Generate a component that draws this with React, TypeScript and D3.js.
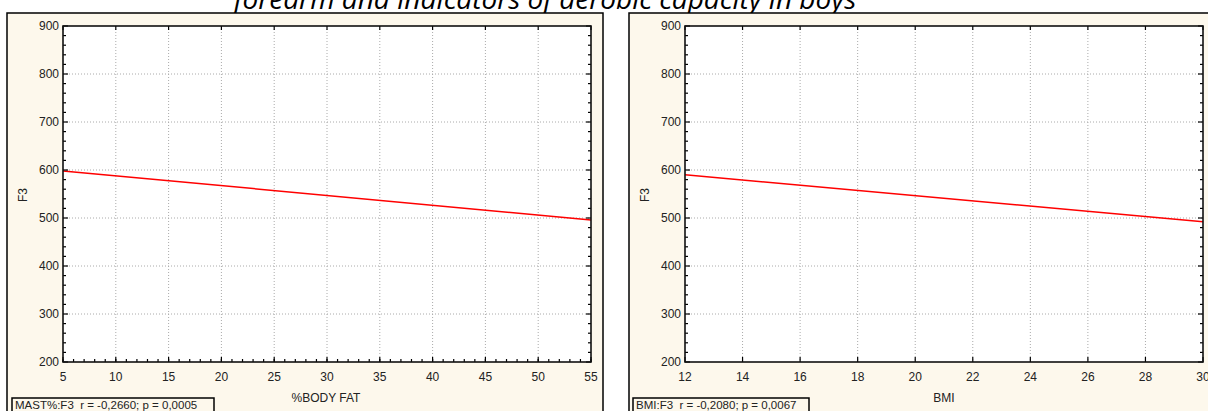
import React from "react";
import * as d3 from "d3";

// chart data
const titleText = "forearm and indicators of aerobic capacity in boys";
const yTicks = [200, 300, 400, 500, 600, 700, 800, 900];

const fatTicks = [5, 10, 15, 20, 25, 30, 35, 40, 45, 50, 55];
const fatFitX = [5, 55];
const fatFitY = [598, 496];

const bmiTicks = [12, 14, 16, 18, 20, 22, 24, 26, 28, 30];
const bmiFitX = [12, 30];
const bmiFitY = [590, 492];

const panels = [
  {
    box: [7, 13, 603, 430],
    plot: [63, 26, 591, 362],
    xTicks: fatTicks,
    xMinor: d3.range(5, 56, 1),
    fitX: fatFitX,
    fitY: fatFitY,
    xTitle: "%BODY FAT",
    xTitleX: 326,
    legend: "MAST%:F3  r = -0,2660; p = 0,0005",
    legendBox: [12, 398, 214],
  },
  {
    box: [629, 13, 1230, 430],
    plot: [685, 26, 1203, 362],
    xTicks: bmiTicks,
    xMinor: [] as number[],
    fitX: bmiFitX,
    fitY: bmiFitY,
    xTitle: "BMI",
    xTitleX: 944,
    legend: "BMI:F3  r = -0,2080; p = 0,0067",
    legendBox: [633, 398, 809],
  },
];

const bg = "#fdf8ec";
const font = "Arial, 'Liberation Sans', sans-serif";

function Panel({ p }: { p: (typeof panels)[0] }) {
  const [bx0, by0, bx1, by1] = p.box;
  const [px0, py0, px1, py1] = p.plot;
  const x = d3
    .scaleLinear()
    .domain(d3.extent(p.xTicks) as [number, number])
    .range([px0, px1]);
  const y = d3.scaleLinear().domain([200, 900]).range([py1, py0]);
  const yMinor = d3.range(200, 901, 20);
  const line = d3
    .line<number>()
    .x((d) => x(d))
    .y((d, i) => y(p.fitY[i]));

  return (
    <g>
      <rect x={bx0} y={by0} width={bx1 - bx0} height={by1 - by0} fill={bg} stroke="#000" strokeWidth={1.5} />
      <rect x={px0} y={py0} width={px1 - px0} height={py1 - py0} fill="#fff" />
      {/* grid */}
      {yTicks.slice(1, -1).map((t) => (
        <line key={"gy" + t} x1={px0} x2={px1} y1={y(t)} y2={y(t)} stroke="#aaa" strokeWidth={1} strokeDasharray="1,2" />
      ))}
      {p.xTicks.slice(1, -1).map((t) => (
        <line key={"gx" + t} x1={x(t)} x2={x(t)} y1={py0} y2={py1} stroke="#aaa" strokeWidth={1} strokeDasharray="1,2" />
      ))}
      {/* fit line */}
      <path d={line(p.fitX) || ""} fill="none" stroke="#ff0000" strokeWidth={1.5} />
      {/* ticks, pointing inward */}
      {yMinor.map((t) => {
        const len = t % 100 === 0 ? 5 : 3;
        return (
          <g key={"ty" + t}>
            <line x1={px0} x2={px0 + len} y1={y(t)} y2={y(t)} stroke="#000" strokeWidth={1.2} />
            <line x1={px1} x2={px1 - len} y1={y(t)} y2={y(t)} stroke="#000" strokeWidth={1.2} />
          </g>
        );
      })}
      {p.xMinor.map((t) => (
        <line key={"mx" + t} x1={x(t)} x2={x(t)} y1={py1} y2={py1 - 3} stroke="#000" strokeWidth={1.2} />
      ))}
      {p.xTicks.map((t) => (
        <g key={"tx" + t}>
          <line x1={x(t)} x2={x(t)} y1={py1} y2={py1 - 5} stroke="#000" strokeWidth={1.2} />
          <line x1={x(t)} x2={x(t)} y1={py0} y2={py0 + 4} stroke="#000" strokeWidth={1.2} />
        </g>
      ))}
      <rect x={px0} y={py0} width={px1 - px0} height={py1 - py0} fill="none" stroke="#111" strokeWidth={1.6} />
      {/* tick labels */}
      {yTicks.map((t) => (
        <text key={"ly" + t} x={px0 - 4} y={y(t)} dy="0.35em" textAnchor="end" fontSize={12} fontFamily={font} fill="#222">
          {t}
        </text>
      ))}
      {p.xTicks.map((t) => (
        <text key={"lx" + t} x={x(t)} y={py1 + 15} dy="0.35em" textAnchor="middle" fontSize={12} fontFamily={font} fill="#222">
          {t}
        </text>
      ))}
      {/* axis titles */}
      <text
        transform={`translate(${bx0 + 16},${(py0 + py1) / 2 + 1}) rotate(-90)`}
        textAnchor="middle"
        dy="0.35em"
        fontSize={12}
        fontFamily={font}
        fill="#222"
      >
        F3
      </text>
      <text x={p.xTitleX} y={py1 + 36} dy="0.35em" textAnchor="middle" fontSize={12} fontFamily={font} fill="#222">
        {p.xTitle}
      </text>
      {/* stats box */}
      <rect
        x={p.legendBox[0]}
        y={p.legendBox[1]}
        width={p.legendBox[2] - p.legendBox[0]}
        height={20}
        fill={bg}
        stroke="#000"
        strokeWidth={1.5}
      />
      <text x={p.legendBox[0] + 3} y={p.legendBox[1] + 7} dy="0.35em" fontSize={11.5} fontFamily={font} fill="#222" style={{ whiteSpace: "pre" }}>
        {p.legend}
      </text>
    </g>
  );
}

export default function App() {
  return (
    <svg
      width={1208}
      height={411}
      style={{ position: "absolute", left: 0, top: 0, background: "#fff" }}
    >
      <text
        x={545}
        y={9}
        textAnchor="middle"
        fontSize={28}
        fontStyle="italic"
        fontFamily="'Open Sans', sans-serif"
        fill="#000"
      >
        {titleText}
      </text>
      {panels.map((p, i) => (
        <Panel key={i} p={p} />
      ))}
    </svg>
  );
}
